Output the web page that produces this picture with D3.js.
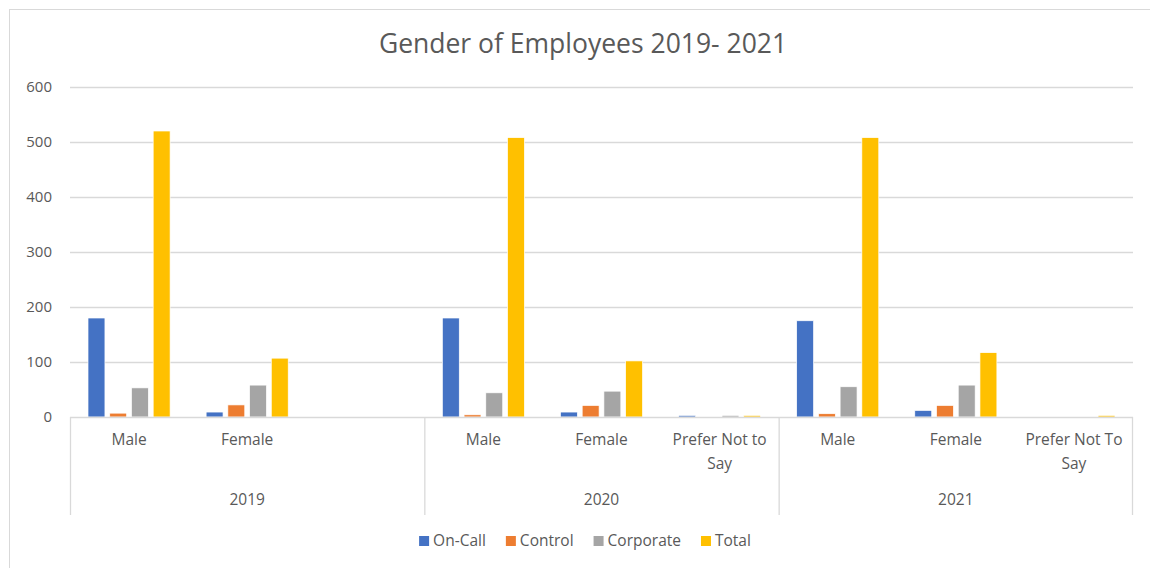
<!DOCTYPE html>
<html>
<head>
<meta charset="utf-8">
<script src="https://cdn.jsdelivr.net/npm/d3@7"></script>
<style>
  body { margin: 0; background: #fff; }
  text { font-family: "Open Sans", "Noto Sans", sans-serif; fill: #595959; }
</style>
</head>
<body>
<div id="chart"></div>
<script>
// --- data ---------------------------------------------------------------
const years = ["2019", "2020", "2021"]
const categories = [
  ["Male"], ["Female"], [""],
  ["Male"], ["Female"], ["Prefer Not to", "Say"],
  ["Male"], ["Female"], ["Prefer Not To", "Say"]
]
const seriesNames = ["On-Call", "Control", "Corporate", "Total"]
const onCall    = [180, 9, 0, 180, 9, 3, 175, 12, 0]
const control   = [7, 22, 0, 4, 21, 0, 6, 21, 0]
const corporate = [53, 58, 0, 44, 47, 3, 55, 58, 0]
const total     = [520, 107, 0, 508, 102, 3, 508, 117, 3]
const yTicks    = [0, 100, 200, 300, 400, 500, 600]

const seriesColors = ["#4472C4", "#ED7D31", "#A5A5A5", "#FFC000"]
const seriesValues = [onCall, control, corporate, total]

// --- layout -------------------------------------------------------------
const width = 1150,
      height = 568,
      plotLeft = 70,
      plotRight = 1133,
      plotTop = 87,
      plotBottom = 417,
      axisBottom = 515,
      gridColor = "#D9D9D9"

const svg = d3.select("#chart").append("svg")
  .attr("width", width)
  .attr("height", height)

// chart frame
svg.append("rect")
  .attr("x", 9.5).attr("y", 9.5)
  .attr("width", width + 10).attr("height", height + 10)
  .attr("fill", "none")
  .attr("stroke", "#D9D9D9")

svg.append("text")
  .attr("x", 583)
  .attr("y", 53)
  .attr("text-anchor", "middle")
  .style("font-size", "26.5px")
  .text("Gender of Employees 2019- 2021")

const slots = d3.range(categories.length)

const x = d3.scaleBand()
  .domain(slots)
  .range([plotLeft, plotRight])

const x1 = d3.scaleBand()
  .domain(seriesNames)
  .range([18, x.bandwidth() - 18])
  .paddingInner(0.22)

const y = d3.scaleLinear()
  .domain([0, 600])
  .range([plotBottom, plotTop])

// gridlines + y labels
const yAxis = svg.append("g")
yAxis.selectAll("line")
  .data(yTicks.filter(d => d > 0))
  .join("line")
  .attr("x1", plotLeft).attr("x2", plotRight)
  .attr("y1", d => Math.round(y(d)) + 0.5)
  .attr("y2", d => Math.round(y(d)) + 0.5)
  .attr("stroke", gridColor)
  .attr("stroke-width", 1.3)

yAxis.selectAll("text")
  .data(yTicks)
  .join("text")
  .attr("x", 52)
  .attr("y", d => y(d))
  .attr("dy", "0.35em")
  .attr("text-anchor", "end")
  .style("font-size", "15px")
  .text(d => d)

// bars
const rows = slots.map(i => ({ slot: i, values: seriesNames.map((s, k) => ({ s, k, v: seriesValues[k][i] })) }))

svg.append("g")
  .selectAll("g")
  .data(rows)
  .join("g")
  .attr("transform", d => `translate(${x(d.slot)},0)`)
  .selectAll("rect")
  .data(d => d.values.filter(v => v.v > 0))
  .join("rect")
  .attr("x", d => x1(d.s))
  .attr("width", x1.bandwidth())
  .attr("y", d => y(d.v))
  .attr("height", d => plotBottom - y(d.v))
  .attr("fill", d => seriesColors[d.k])
  .attr("stroke", "#fff")
  .attr("stroke-width", 0.7)

// category axis
const catAxis = svg.append("g")
catAxis.append("line")
  .attr("x1", plotLeft).attr("x2", plotRight)
  .attr("y1", plotBottom + 0.5).attr("y2", plotBottom + 0.5)
  .attr("stroke", gridColor)
  .attr("stroke-width", 1.3)

const dividers = d3.range(years.length + 1).map(i => i * 3)
catAxis.selectAll("line.div")
  .data(dividers)
  .join("line")
  .attr("class", "div")
  .attr("x1", d => d < slots.length ? x(d) + 0.5 : plotRight - 0.5)
  .attr("x2", d => d < slots.length ? x(d) + 0.5 : plotRight - 0.5)
  .attr("y1", plotBottom).attr("y2", axisBottom)
  .attr("stroke", gridColor)
  .attr("stroke-width", 1.3)

catAxis.selectAll("text.cat")
  .data(slots)
  .join("text")
  .attr("class", "cat")
  .attr("text-anchor", "middle")
  .attr("y", 445)
  .style("font-size", "15.5px")
  .selectAll("tspan")
  .data(i => categories[i].map(line => ({ i, line })))
  .join("tspan")
  .attr("x", d => x(d.i) + x.bandwidth() / 2)
  .attr("dy", (d, j) => j === 0 ? 0 : 24)
  .text(d => d.line)

catAxis.selectAll("text.year")
  .data(years)
  .join("text")
  .attr("class", "year")
  .attr("text-anchor", "middle")
  .attr("x", (d, i) => (x(i * 3) + x(i * 3 + 2) + x.bandwidth()) / 2)
  .attr("y", 505)
  .style("font-size", "15.5px")
  .text(d => d)

// legend
const legend = svg.append("g")
const items = legend.selectAll("g")
  .data(seriesNames)
  .join("g")
items.append("rect")
  .attr("width", 10).attr("height", 10)
  .attr("y", -5)
  .attr("fill", (d, i) => seriesColors[i])
items.append("text")
  .attr("x", 14)
  .attr("dy", "0.35em")
  .style("font-size", "15.5px")
  .text(d => d)

let offset = 0
const positions = []
items.each(function() {
  positions.push(offset)
  offset += this.getBBox().width + 20
})
offset -= 20
items.attr("transform", (d, i) => `translate(${positions[i]},0)`)
legend.attr("transform", `translate(${585 - offset / 2},541)`)
</script>
</body>
</html>
